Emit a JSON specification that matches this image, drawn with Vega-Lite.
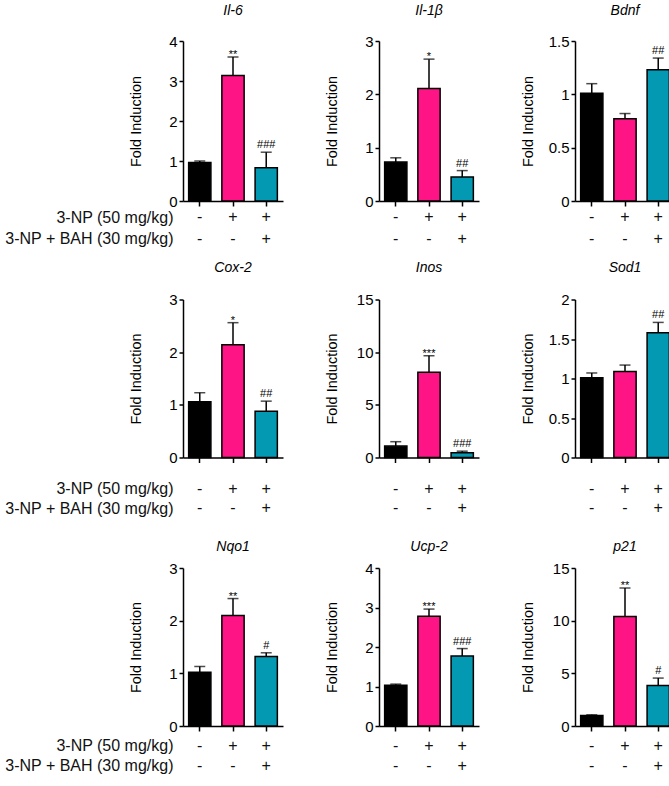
{
  "$schema": "https://vega.github.io/schema/vega-lite/v6.json",
  "padding": {"left": 4, "top": 3, "right": 0, "bottom": 0},
  "config": {
    "font": "Liberation Sans",
    "view": {"stroke": null},
    "axis": {"domainColor": "black", "tickColor": "black", "labelColor": "black", "titleColor": "black", "domainWidth": 1.5, "tickWidth": 1.5, "grid": false, "labelOverlap": false},
    "axisY": {"tickSize": 4, "labelFontSize": 15, "labelPadding": 2, "titleFontSize": 14.5, "titleFontWeight": "normal", "titleX": -47, "titleBaseline": "middle", "labelOverlap": false},
    "axisX": {"tickSize": 5},
    "title": {"fontSize": 14, "fontStyle": "italic", "fontWeight": "normal", "frame": "group", "color": "black"},
    "text": {"color": "#111111"}
  },
  "datasets": {
    "bars": [
      {"gene": "Il-6", "group": "Control", "value": 0.96, "err": 1.0, "sig": ""},
      {"gene": "Il-6", "group": "3-NP", "value": 3.14, "err": 3.6, "sig": "**"},
      {"gene": "Il-6", "group": "3-NP+BAH", "value": 0.83, "err": 1.22, "sig": "###"},
      {"gene": "Il-1β", "group": "Control", "value": 0.73, "err": 0.81, "sig": ""},
      {"gene": "Il-1β", "group": "3-NP", "value": 2.11, "err": 2.66, "sig": "*"},
      {"gene": "Il-1β", "group": "3-NP+BAH", "value": 0.45, "err": 0.57, "sig": "##"},
      {"gene": "Bdnf", "group": "Control", "value": 1.01, "err": 1.1, "sig": ""},
      {"gene": "Bdnf", "group": "3-NP", "value": 0.77, "err": 0.82, "sig": ""},
      {"gene": "Bdnf", "group": "3-NP+BAH", "value": 1.23, "err": 1.34, "sig": "##"},
      {"gene": "Cox-2", "group": "Control", "value": 1.06, "err": 1.23, "sig": ""},
      {"gene": "Cox-2", "group": "3-NP", "value": 2.14, "err": 2.56, "sig": "*"},
      {"gene": "Cox-2", "group": "3-NP+BAH", "value": 0.88, "err": 1.07, "sig": "##"},
      {"gene": "Inos", "group": "Control", "value": 1.08, "err": 1.5, "sig": ""},
      {"gene": "Inos", "group": "3-NP", "value": 8.1, "err": 9.66, "sig": "***"},
      {"gene": "Inos", "group": "3-NP+BAH", "value": 0.45, "err": 0.6, "sig": "###"},
      {"gene": "Sod1", "group": "Control", "value": 1.01, "err": 1.07, "sig": ""},
      {"gene": "Sod1", "group": "3-NP", "value": 1.09, "err": 1.17, "sig": ""},
      {"gene": "Sod1", "group": "3-NP+BAH", "value": 1.58, "err": 1.71, "sig": "##"},
      {"gene": "Nqo1", "group": "Control", "value": 1.02, "err": 1.13, "sig": ""},
      {"gene": "Nqo1", "group": "3-NP", "value": 2.1, "err": 2.42, "sig": "**"},
      {"gene": "Nqo1", "group": "3-NP+BAH", "value": 1.32, "err": 1.39, "sig": "#"},
      {"gene": "Ucp-2", "group": "Control", "value": 1.03, "err": 1.06, "sig": ""},
      {"gene": "Ucp-2", "group": "3-NP", "value": 2.78, "err": 2.96, "sig": "***"},
      {"gene": "Ucp-2", "group": "3-NP+BAH", "value": 1.77, "err": 1.96, "sig": "###"},
      {"gene": "p21", "group": "Control", "value": 1.0, "err": 1.06, "sig": ""},
      {"gene": "p21", "group": "3-NP", "value": 10.4, "err": 13.1, "sig": "**"},
      {"gene": "p21", "group": "3-NP+BAH", "value": 3.85, "err": 4.55, "sig": "#"}
    ],
    "table": [
      {"group": "Control", "row": "3-NP (50 mg/kg)", "sign": "-"},
      {"group": "3-NP", "row": "3-NP (50 mg/kg)", "sign": "+"},
      {"group": "3-NP+BAH", "row": "3-NP (50 mg/kg)", "sign": "+"},
      {"group": "Control", "row": "3-NP + BAH (30 mg/kg)", "sign": "-"},
      {"group": "3-NP", "row": "3-NP + BAH (30 mg/kg)", "sign": "-"},
      {"group": "3-NP+BAH", "row": "3-NP + BAH (30 mg/kg)", "sign": "+"}
    ]
  },
  "spacing": 13.5,
  "vconcat": [
    {"hconcat": [
      {"spacing": 0, "vconcat": [
        {"title": {"text": "Il-6", "offset": 16.5}, "width": 100, "height": 160, "data": {"name": "bars"}, "transform": [{"filter": "datum.gene === 'Il-6'"}],
         "encoding": {"x": {"field": "group", "type": "nominal", "sort": ["Control", "3-NP", "3-NP+BAH"], "scale": {"type": "band", "paddingInner": 0.33, "paddingOuter": 0.17}, "axis": {"labels": false, "title": null}}},
         "layer": [
          {"mark": {"type": "bar", "stroke": "black", "strokeWidth": 1.5}, "encoding": {"y": {"field": "value", "type": "quantitative", "title": "Fold Induction", "scale": {"domain": [0, 4], "nice": false}, "axis": {"values": [0, 1, 2, 3, 4], "tickCount": 20, "format": "~g", "labelOverlap": false}}, "color": {"field": "group", "type": "nominal", "scale": {"domain": ["Control", "3-NP", "3-NP+BAH"], "range": ["#000000", "#ff1485", "#0399b3"]}, "legend": null}}},
          {"mark": {"type": "rule", "strokeWidth": 1.5, "color": "black"}, "encoding": {"y": {"field": "value", "type": "quantitative", "title": "Fold Induction"}, "y2": {"field": "err"}}},
          {"mark": {"type": "tick", "orient": "horizontal", "size": 11, "thickness": 1.5, "color": "black"}, "encoding": {"y": {"field": "err", "type": "quantitative", "title": "Fold Induction"}}},
          {"transform": [{"filter": "indexof(datum.sig, '*') >= 0"}], "mark": {"type": "text", "fontSize": 11, "baseline": "alphabetic", "dy": 1, "color": "black"}, "encoding": {"y": {"field": "err", "type": "quantitative", "title": "Fold Induction"}, "text": {"field": "sig"}}},
          {"transform": [{"filter": "indexof(datum.sig, '#') >= 0"}], "mark": {"type": "text", "fontSize": 11, "baseline": "alphabetic", "dy": -4, "color": "black"}, "encoding": {"y": {"field": "err", "type": "quantitative", "title": "Fold Induction"}, "text": {"field": "sig"}}}
         ]},
        {"width": 100, "height": 36, "data": {"name": "table"}, "mark": {"type": "text", "fontSize": 16},
         "encoding": {"x": {"field": "group", "type": "nominal", "sort": ["Control", "3-NP", "3-NP+BAH"], "scale": {"type": "band", "paddingInner": 0.33, "paddingOuter": 0.17}, "axis": null},
          "y": {"field": "row", "type": "nominal", "sort": ["3-NP (50 mg/kg)", "3-NP + BAH (30 mg/kg)"], "scale": {"type": "point", "padding": 0.357}, "axis": {"title": null, "domain": false, "ticks": false, "labelFontSize": 16, "labelPadding": 10, "labelColor": "#111111", "labelLimit": 300}},
          "text": {"field": "sign"}}}
      ]},
      {"spacing": 0, "vconcat": [
        {"title": {"text": "Il-1β", "offset": 16.5}, "width": 100, "height": 160, "data": {"name": "bars"}, "transform": [{"filter": "datum.gene === 'Il-1β'"}],
         "encoding": {"x": {"field": "group", "type": "nominal", "sort": ["Control", "3-NP", "3-NP+BAH"], "scale": {"type": "band", "paddingInner": 0.33, "paddingOuter": 0.17}, "axis": {"labels": false, "title": null}}},
         "layer": [
          {"mark": {"type": "bar", "stroke": "black", "strokeWidth": 1.5}, "encoding": {"y": {"field": "value", "type": "quantitative", "title": "Fold Induction", "scale": {"domain": [0, 3], "nice": false}, "axis": {"values": [0, 1, 2, 3], "tickCount": 20, "format": "~g", "labelOverlap": false}}, "color": {"field": "group", "type": "nominal", "scale": {"domain": ["Control", "3-NP", "3-NP+BAH"], "range": ["#000000", "#f0085f", "#0399b3"]}, "legend": null}}},
          {"mark": {"type": "rule", "strokeWidth": 1.5, "color": "black"}, "encoding": {"y": {"field": "value", "type": "quantitative", "title": "Fold Induction"}, "y2": {"field": "err"}}},
          {"mark": {"type": "tick", "orient": "horizontal", "size": 11, "thickness": 1.5, "color": "black"}, "encoding": {"y": {"field": "err", "type": "quantitative", "title": "Fold Induction"}}},
          {"transform": [{"filter": "indexof(datum.sig, '*') >= 0"}], "mark": {"type": "text", "fontSize": 11, "baseline": "alphabetic", "dy": 1, "color": "black"}, "encoding": {"y": {"field": "err", "type": "quantitative", "title": "Fold Induction"}, "text": {"field": "sig"}}},
          {"transform": [{"filter": "indexof(datum.sig, '#') >= 0"}], "mark": {"type": "text", "fontSize": 11, "baseline": "alphabetic", "dy": -4, "color": "black"}, "encoding": {"y": {"field": "err", "type": "quantitative", "title": "Fold Induction"}, "text": {"field": "sig"}}}
         ]},
        {"width": 100, "height": 36, "data": {"name": "table"}, "mark": {"type": "text", "fontSize": 16},
         "encoding": {"x": {"field": "group", "type": "nominal", "sort": ["Control", "3-NP", "3-NP+BAH"], "scale": {"type": "band", "paddingInner": 0.33, "paddingOuter": 0.17}, "axis": null},
          "y": {"field": "row", "type": "nominal", "sort": ["3-NP (50 mg/kg)", "3-NP + BAH (30 mg/kg)"], "scale": {"type": "point", "padding": 0.357}, "axis": null},
          "text": {"field": "sign"}}}
      ]},
      {"spacing": 0, "vconcat": [
        {"title": {"text": "Bdnf", "offset": 16.5}, "width": 100, "height": 160, "data": {"name": "bars"}, "transform": [{"filter": "datum.gene === 'Bdnf'"}],
         "encoding": {"x": {"field": "group", "type": "nominal", "sort": ["Control", "3-NP", "3-NP+BAH"], "scale": {"type": "band", "paddingInner": 0.33, "paddingOuter": 0.17}, "axis": {"labels": false, "title": null}}},
         "layer": [
          {"mark": {"type": "bar", "stroke": "black", "strokeWidth": 1.5}, "encoding": {"y": {"field": "value", "type": "quantitative", "title": "Fold Induction", "scale": {"domain": [0, 1.5], "nice": false}, "axis": {"values": [0, 0.5, 1, 1.5], "tickCount": 20, "format": "~g", "labelOverlap": false}}, "color": {"field": "group", "type": "nominal", "scale": {"domain": ["Control", "3-NP", "3-NP+BAH"], "range": ["#000000", "#ff1485", "#0399b3"]}, "legend": null}}},
          {"mark": {"type": "rule", "strokeWidth": 1.5, "color": "black"}, "encoding": {"y": {"field": "value", "type": "quantitative", "title": "Fold Induction"}, "y2": {"field": "err"}}},
          {"mark": {"type": "tick", "orient": "horizontal", "size": 11, "thickness": 1.5, "color": "black"}, "encoding": {"y": {"field": "err", "type": "quantitative", "title": "Fold Induction"}}},
          {"transform": [{"filter": "indexof(datum.sig, '#') >= 0"}], "mark": {"type": "text", "fontSize": 11, "baseline": "alphabetic", "dy": -4, "color": "black"}, "encoding": {"y": {"field": "err", "type": "quantitative", "title": "Fold Induction"}, "text": {"field": "sig"}}}
         ]},
        {"width": 100, "height": 36, "data": {"name": "table"}, "mark": {"type": "text", "fontSize": 16},
         "encoding": {"x": {"field": "group", "type": "nominal", "sort": ["Control", "3-NP", "3-NP+BAH"], "scale": {"type": "band", "paddingInner": 0.33, "paddingOuter": 0.17}, "axis": null},
          "y": {"field": "row", "type": "nominal", "sort": ["3-NP (50 mg/kg)", "3-NP + BAH (30 mg/kg)"], "scale": {"type": "point", "padding": 0.357}, "axis": null},
          "text": {"field": "sign"}}}
      ]}
    ], "spacing": 41},
    {"hconcat": [
      {"spacing": 6, "vconcat": [
        {"title": {"text": "Cox-2", "offset": 17.5}, "width": 100, "height": 158, "data": {"name": "bars"}, "transform": [{"filter": "datum.gene === 'Cox-2'"}],
         "encoding": {"x": {"field": "group", "type": "nominal", "sort": ["Control", "3-NP", "3-NP+BAH"], "scale": {"type": "band", "paddingInner": 0.33, "paddingOuter": 0.17}, "axis": {"labels": false, "title": null}}},
         "layer": [
          {"mark": {"type": "bar", "stroke": "black", "strokeWidth": 1.5}, "encoding": {"y": {"field": "value", "type": "quantitative", "title": "Fold Induction", "scale": {"domain": [0, 3], "nice": false}, "axis": {"values": [0, 1, 2, 3], "tickCount": 20, "format": "~g", "labelOverlap": false}}, "color": {"field": "group", "type": "nominal", "scale": {"domain": ["Control", "3-NP", "3-NP+BAH"], "range": ["#000000", "#f0085f", "#0399b3"]}, "legend": null}}},
          {"mark": {"type": "rule", "strokeWidth": 1.5, "color": "black"}, "encoding": {"y": {"field": "value", "type": "quantitative", "title": "Fold Induction"}, "y2": {"field": "err"}}},
          {"mark": {"type": "tick", "orient": "horizontal", "size": 11, "thickness": 1.5, "color": "black"}, "encoding": {"y": {"field": "err", "type": "quantitative", "title": "Fold Induction"}}},
          {"transform": [{"filter": "indexof(datum.sig, '*') >= 0"}], "mark": {"type": "text", "fontSize": 11, "baseline": "alphabetic", "dy": 1, "color": "black"}, "encoding": {"y": {"field": "err", "type": "quantitative", "title": "Fold Induction"}, "text": {"field": "sig"}}},
          {"transform": [{"filter": "indexof(datum.sig, '#') >= 0"}], "mark": {"type": "text", "fontSize": 11, "baseline": "alphabetic", "dy": -4, "color": "black"}, "encoding": {"y": {"field": "err", "type": "quantitative", "title": "Fold Induction"}, "text": {"field": "sig"}}}
         ]},
        {"width": 100, "height": 54, "data": {"name": "table"}, "mark": {"type": "text", "fontSize": 16},
         "encoding": {"x": {"field": "group", "type": "nominal", "sort": ["Control", "3-NP", "3-NP+BAH"], "scale": {"type": "band", "paddingInner": 0.33, "paddingOuter": 0.17}, "axis": null},
          "y": {"field": "row", "type": "nominal", "sort": ["3-NP (50 mg/kg)", "3-NP + BAH (30 mg/kg)"], "scale": {"type": "point", "padding": 0.921}, "axis": {"title": null, "domain": false, "ticks": false, "labelFontSize": 16, "labelPadding": 10, "labelColor": "#111111", "labelLimit": 300}},
          "text": {"field": "sign"}}}
      ]},
      {"spacing": 6, "vconcat": [
        {"title": {"text": "Inos", "offset": 17.5}, "width": 100, "height": 158, "data": {"name": "bars"}, "transform": [{"filter": "datum.gene === 'Inos'"}],
         "encoding": {"x": {"field": "group", "type": "nominal", "sort": ["Control", "3-NP", "3-NP+BAH"], "scale": {"type": "band", "paddingInner": 0.33, "paddingOuter": 0.17}, "axis": {"labels": false, "title": null}}},
         "layer": [
          {"mark": {"type": "bar", "stroke": "black", "strokeWidth": 1.5}, "encoding": {"y": {"field": "value", "type": "quantitative", "title": "Fold Induction", "scale": {"domain": [0, 15], "nice": false}, "axis": {"values": [0, 5, 10, 15], "tickCount": 20, "format": "~g", "labelOverlap": false}}, "color": {"field": "group", "type": "nominal", "scale": {"domain": ["Control", "3-NP", "3-NP+BAH"], "range": ["#000000", "#f0085f", "#0399b3"]}, "legend": null}}},
          {"mark": {"type": "rule", "strokeWidth": 1.5, "color": "black"}, "encoding": {"y": {"field": "value", "type": "quantitative", "title": "Fold Induction"}, "y2": {"field": "err"}}},
          {"mark": {"type": "tick", "orient": "horizontal", "size": 11, "thickness": 1.5, "color": "black"}, "encoding": {"y": {"field": "err", "type": "quantitative", "title": "Fold Induction"}}},
          {"transform": [{"filter": "indexof(datum.sig, '*') >= 0"}], "mark": {"type": "text", "fontSize": 11, "baseline": "alphabetic", "dy": 1, "color": "black"}, "encoding": {"y": {"field": "err", "type": "quantitative", "title": "Fold Induction"}, "text": {"field": "sig"}}},
          {"transform": [{"filter": "indexof(datum.sig, '#') >= 0"}], "mark": {"type": "text", "fontSize": 11, "baseline": "alphabetic", "dy": -4, "color": "black"}, "encoding": {"y": {"field": "err", "type": "quantitative", "title": "Fold Induction"}, "text": {"field": "sig"}}}
         ]},
        {"width": 100, "height": 54, "data": {"name": "table"}, "mark": {"type": "text", "fontSize": 16},
         "encoding": {"x": {"field": "group", "type": "nominal", "sort": ["Control", "3-NP", "3-NP+BAH"], "scale": {"type": "band", "paddingInner": 0.33, "paddingOuter": 0.17}, "axis": null},
          "y": {"field": "row", "type": "nominal", "sort": ["3-NP (50 mg/kg)", "3-NP + BAH (30 mg/kg)"], "scale": {"type": "point", "padding": 0.921}, "axis": null},
          "text": {"field": "sign"}}}
      ]},
      {"spacing": 6, "vconcat": [
        {"title": {"text": "Sod1", "offset": 17.5}, "width": 100, "height": 158, "data": {"name": "bars"}, "transform": [{"filter": "datum.gene === 'Sod1'"}],
         "encoding": {"x": {"field": "group", "type": "nominal", "sort": ["Control", "3-NP", "3-NP+BAH"], "scale": {"type": "band", "paddingInner": 0.33, "paddingOuter": 0.17}, "axis": {"labels": false, "title": null}}},
         "layer": [
          {"mark": {"type": "bar", "stroke": "black", "strokeWidth": 1.5}, "encoding": {"y": {"field": "value", "type": "quantitative", "title": "Fold Induction", "scale": {"domain": [0, 2], "nice": false}, "axis": {"values": [0, 0.5, 1, 1.5, 2], "tickCount": 20, "format": "~g", "labelOverlap": false}}, "color": {"field": "group", "type": "nominal", "scale": {"domain": ["Control", "3-NP", "3-NP+BAH"], "range": ["#000000", "#ff1485", "#0399b3"]}, "legend": null}}},
          {"mark": {"type": "rule", "strokeWidth": 1.5, "color": "black"}, "encoding": {"y": {"field": "value", "type": "quantitative", "title": "Fold Induction"}, "y2": {"field": "err"}}},
          {"mark": {"type": "tick", "orient": "horizontal", "size": 11, "thickness": 1.5, "color": "black"}, "encoding": {"y": {"field": "err", "type": "quantitative", "title": "Fold Induction"}}},
          {"transform": [{"filter": "indexof(datum.sig, '#') >= 0"}], "mark": {"type": "text", "fontSize": 11, "baseline": "alphabetic", "dy": -4, "color": "black"}, "encoding": {"y": {"field": "err", "type": "quantitative", "title": "Fold Induction"}, "text": {"field": "sig"}}}
         ]},
        {"width": 100, "height": 54, "data": {"name": "table"}, "mark": {"type": "text", "fontSize": 16},
         "encoding": {"x": {"field": "group", "type": "nominal", "sort": ["Control", "3-NP", "3-NP+BAH"], "scale": {"type": "band", "paddingInner": 0.33, "paddingOuter": 0.17}, "axis": null},
          "y": {"field": "row", "type": "nominal", "sort": ["3-NP (50 mg/kg)", "3-NP + BAH (30 mg/kg)"], "scale": {"type": "point", "padding": 0.921}, "axis": null},
          "text": {"field": "sign"}}}
      ]}
    ], "spacing": 41},
    {"hconcat": [
      {"spacing": 1.5, "vconcat": [
        {"title": {"text": "Nqo1", "offset": 7.5}, "width": 100, "height": 158, "data": {"name": "bars"}, "transform": [{"filter": "datum.gene === 'Nqo1'"}],
         "encoding": {"x": {"field": "group", "type": "nominal", "sort": ["Control", "3-NP", "3-NP+BAH"], "scale": {"type": "band", "paddingInner": 0.33, "paddingOuter": 0.17}, "axis": {"labels": false, "title": null}}},
         "layer": [
          {"mark": {"type": "bar", "stroke": "black", "strokeWidth": 1.5}, "encoding": {"y": {"field": "value", "type": "quantitative", "title": "Fold Induction", "scale": {"domain": [0, 3], "nice": false}, "axis": {"values": [0, 1, 2, 3], "tickCount": 20, "format": "~g", "labelOverlap": false}}, "color": {"field": "group", "type": "nominal", "scale": {"domain": ["Control", "3-NP", "3-NP+BAH"], "range": ["#000000", "#f0085f", "#0399b3"]}, "legend": null}}},
          {"mark": {"type": "rule", "strokeWidth": 1.5, "color": "black"}, "encoding": {"y": {"field": "value", "type": "quantitative", "title": "Fold Induction"}, "y2": {"field": "err"}}},
          {"mark": {"type": "tick", "orient": "horizontal", "size": 11, "thickness": 1.5, "color": "black"}, "encoding": {"y": {"field": "err", "type": "quantitative", "title": "Fold Induction"}}},
          {"transform": [{"filter": "indexof(datum.sig, '*') >= 0"}], "mark": {"type": "text", "fontSize": 11, "baseline": "alphabetic", "dy": 1, "color": "black"}, "encoding": {"y": {"field": "err", "type": "quantitative", "title": "Fold Induction"}, "text": {"field": "sig"}}},
          {"transform": [{"filter": "indexof(datum.sig, '#') >= 0"}], "mark": {"type": "text", "fontSize": 11, "baseline": "alphabetic", "dy": -4, "color": "black"}, "encoding": {"y": {"field": "err", "type": "quantitative", "title": "Fold Induction"}, "text": {"field": "sig"}}}
         ]},
        {"width": 100, "height": 40, "data": {"name": "table"}, "mark": {"type": "text", "fontSize": 16},
         "encoding": {"x": {"field": "group", "type": "nominal", "sort": ["Control", "3-NP", "3-NP+BAH"], "scale": {"type": "band", "paddingInner": 0.33, "paddingOuter": 0.17}, "axis": null},
          "y": {"field": "row", "type": "nominal", "sort": ["3-NP (50 mg/kg)", "3-NP + BAH (30 mg/kg)"], "scale": {"type": "point", "padding": 0.5}, "axis": {"title": null, "domain": false, "ticks": false, "labelFontSize": 16, "labelPadding": 10, "labelColor": "#111111", "labelLimit": 300}},
          "text": {"field": "sign"}}}
      ]},
      {"spacing": 1.5, "vconcat": [
        {"title": {"text": "Ucp-2", "offset": 7.5}, "width": 100, "height": 158, "data": {"name": "bars"}, "transform": [{"filter": "datum.gene === 'Ucp-2'"}],
         "encoding": {"x": {"field": "group", "type": "nominal", "sort": ["Control", "3-NP", "3-NP+BAH"], "scale": {"type": "band", "paddingInner": 0.33, "paddingOuter": 0.17}, "axis": {"labels": false, "title": null}}},
         "layer": [
          {"mark": {"type": "bar", "stroke": "black", "strokeWidth": 1.5}, "encoding": {"y": {"field": "value", "type": "quantitative", "title": "Fold Induction", "scale": {"domain": [0, 4], "nice": false}, "axis": {"values": [0, 1, 2, 3, 4], "tickCount": 20, "format": "~g", "labelOverlap": false}}, "color": {"field": "group", "type": "nominal", "scale": {"domain": ["Control", "3-NP", "3-NP+BAH"], "range": ["#000000", "#f0085f", "#0399b3"]}, "legend": null}}},
          {"mark": {"type": "rule", "strokeWidth": 1.5, "color": "black"}, "encoding": {"y": {"field": "value", "type": "quantitative", "title": "Fold Induction"}, "y2": {"field": "err"}}},
          {"mark": {"type": "tick", "orient": "horizontal", "size": 11, "thickness": 1.5, "color": "black"}, "encoding": {"y": {"field": "err", "type": "quantitative", "title": "Fold Induction"}}},
          {"transform": [{"filter": "indexof(datum.sig, '*') >= 0"}], "mark": {"type": "text", "fontSize": 11, "baseline": "alphabetic", "dy": 1, "color": "black"}, "encoding": {"y": {"field": "err", "type": "quantitative", "title": "Fold Induction"}, "text": {"field": "sig"}}},
          {"transform": [{"filter": "indexof(datum.sig, '#') >= 0"}], "mark": {"type": "text", "fontSize": 11, "baseline": "alphabetic", "dy": -4, "color": "black"}, "encoding": {"y": {"field": "err", "type": "quantitative", "title": "Fold Induction"}, "text": {"field": "sig"}}}
         ]},
        {"width": 100, "height": 40, "data": {"name": "table"}, "mark": {"type": "text", "fontSize": 16},
         "encoding": {"x": {"field": "group", "type": "nominal", "sort": ["Control", "3-NP", "3-NP+BAH"], "scale": {"type": "band", "paddingInner": 0.33, "paddingOuter": 0.17}, "axis": null},
          "y": {"field": "row", "type": "nominal", "sort": ["3-NP (50 mg/kg)", "3-NP + BAH (30 mg/kg)"], "scale": {"type": "point", "padding": 0.5}, "axis": null},
          "text": {"field": "sign"}}}
      ]},
      {"spacing": 1.5, "vconcat": [
        {"title": {"text": "p21", "offset": 7.5}, "width": 100, "height": 158, "data": {"name": "bars"}, "transform": [{"filter": "datum.gene === 'p21'"}],
         "encoding": {"x": {"field": "group", "type": "nominal", "sort": ["Control", "3-NP", "3-NP+BAH"], "scale": {"type": "band", "paddingInner": 0.33, "paddingOuter": 0.17}, "axis": {"labels": false, "title": null}}},
         "layer": [
          {"mark": {"type": "bar", "stroke": "black", "strokeWidth": 1.5}, "encoding": {"y": {"field": "value", "type": "quantitative", "title": "Fold Induction", "scale": {"domain": [0, 15], "nice": false}, "axis": {"values": [0, 5, 10, 15], "tickCount": 20, "format": "~g", "labelOverlap": false}}, "color": {"field": "group", "type": "nominal", "scale": {"domain": ["Control", "3-NP", "3-NP+BAH"], "range": ["#000000", "#f0085f", "#0399b3"]}, "legend": null}}},
          {"mark": {"type": "rule", "strokeWidth": 1.5, "color": "black"}, "encoding": {"y": {"field": "value", "type": "quantitative", "title": "Fold Induction"}, "y2": {"field": "err"}}},
          {"mark": {"type": "tick", "orient": "horizontal", "size": 11, "thickness": 1.5, "color": "black"}, "encoding": {"y": {"field": "err", "type": "quantitative", "title": "Fold Induction"}}},
          {"transform": [{"filter": "indexof(datum.sig, '*') >= 0"}], "mark": {"type": "text", "fontSize": 11, "baseline": "alphabetic", "dy": 1, "color": "black"}, "encoding": {"y": {"field": "err", "type": "quantitative", "title": "Fold Induction"}, "text": {"field": "sig"}}},
          {"transform": [{"filter": "indexof(datum.sig, '#') >= 0"}], "mark": {"type": "text", "fontSize": 11, "baseline": "alphabetic", "dy": -4, "color": "black"}, "encoding": {"y": {"field": "err", "type": "quantitative", "title": "Fold Induction"}, "text": {"field": "sig"}}}
         ]},
        {"width": 100, "height": 40, "data": {"name": "table"}, "mark": {"type": "text", "fontSize": 16},
         "encoding": {"x": {"field": "group", "type": "nominal", "sort": ["Control", "3-NP", "3-NP+BAH"], "scale": {"type": "band", "paddingInner": 0.33, "paddingOuter": 0.17}, "axis": null},
          "y": {"field": "row", "type": "nominal", "sort": ["3-NP (50 mg/kg)", "3-NP + BAH (30 mg/kg)"], "scale": {"type": "point", "padding": 0.5}, "axis": null},
          "text": {"field": "sign"}}}
      ]}
    ], "spacing": 41}
  ]
}
